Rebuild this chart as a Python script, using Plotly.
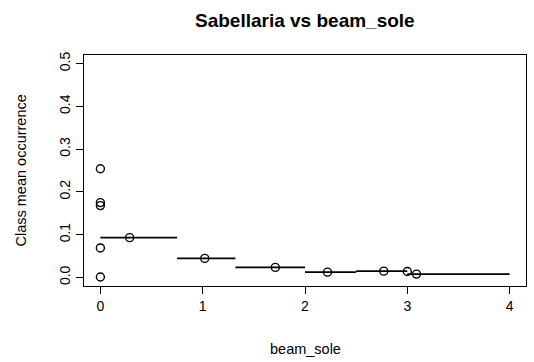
import plotly.graph_objects as go

# Class summaries of Sabellaria occurrence along beam_sole
class_lo = [0.0, 0.0, 0.0, 0.0, 0.0, 0.0, 0.75, 1.32, 2.0, 2.5, 3.0, 3.0]
class_hi = [0.0, 0.0, 0.0, 0.0, 0.0, 0.75, 1.32, 2.0, 2.5, 3.0, 3.0, 4.0]
class_x = [0.0, 0.0, 0.0, 0.0, 0.0, 0.286, 1.02, 1.71, 2.22, 2.77, 3.0, 3.09]
class_mean = [0.254, 0.175, 0.168, 0.069, 0.001, 0.093, 0.0445, 0.0235, 0.0124, 0.0147, 0.014, 0.0078]

x_ticks = [0, 1, 2, 3, 4]
y_ticks = [0.0, 0.1, 0.2, 0.3, 0.4, 0.5]
y_tick_text = ["0.0", "0.1", "0.2", "0.3", "0.4", "0.5"]

seg_x, seg_y = [], []
for lo, hi, m in zip(class_lo, class_hi, class_mean):
    seg_x += [lo, hi, None]
    seg_y += [m, m, None]

fig = go.Figure()
fig.add_trace(go.Scatter(
    x=seg_x, y=seg_y, mode="lines",
    line=dict(color="black", width=1.7),
    hoverinfo="skip", showlegend=False,
))
fig.add_trace(go.Scatter(
    x=class_x, y=class_mean, mode="markers",
    marker=dict(symbol="circle-open", size=8, color="black", line=dict(width=1.4)),
    showlegend=False,
))

font = "Liberation Sans, Arial, sans-serif"
fig.update_layout(
    width=534, height=362,
    margin=dict(l=84, r=8, t=55, b=76),
    paper_bgcolor="white", plot_bgcolor="white",
    font=dict(family=font, size=14, color="black"),
    xaxis=dict(
        range=[-0.16, 4.16], tickvals=x_ticks, ticks="outside", ticklen=7,
        tickwidth=1, tickcolor="black", showline=True, linecolor="black",
        linewidth=1, mirror=True, showgrid=False, zeroline=False,
        tickfont=dict(size=14),
    ),
    yaxis=dict(
        range=[-0.02, 0.52], tickvals=y_ticks, ticktext=y_tick_text,
        ticks="outside", ticklen=7, tickwidth=1, tickcolor="black",
        showline=True, linecolor="black", linewidth=1, mirror=True,
        showgrid=False, zeroline=False, tickangle=-90,
        tickfont=dict(size=14),
    ),
    annotations=[
        dict(text="<b>Sabellaria vs beam_sole</b>", xref="paper", yref="paper",
             x=0.5, y=1, yshift=35, showarrow=False, font=dict(size=19),
             xanchor="center", yanchor="middle"),
        dict(text="beam_sole", xref="paper", yref="paper", x=0.5, y=0,
             yshift=-63, showarrow=False, font=dict(size=14.5),
             xanchor="center", yanchor="middle"),
        dict(text="Class mean occurrence", xref="paper", yref="paper",
             x=0, y=0.5, xshift=-64, showarrow=False, textangle=-90,
             font=dict(size=14.5), xanchor="center", yanchor="middle"),
    ],
)

fig.write_html("out.html")
